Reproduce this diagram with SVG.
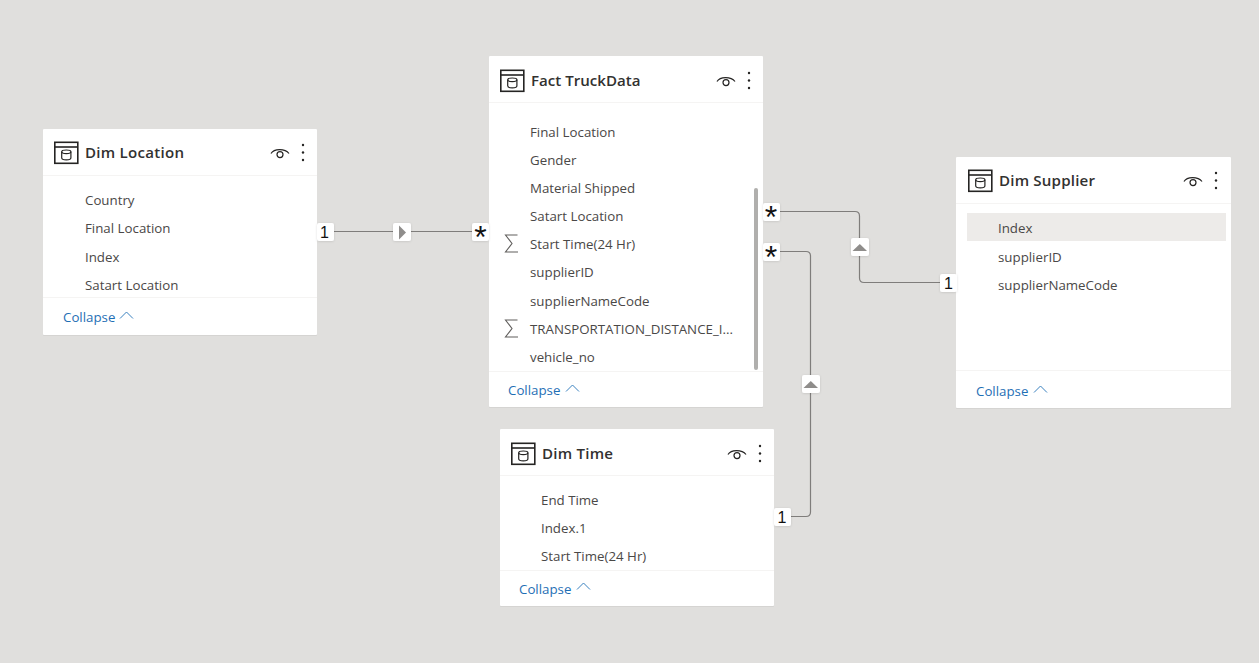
<svg xmlns="http://www.w3.org/2000/svg" xmlns:xlink="http://www.w3.org/1999/xlink" width="1259" height="663" viewBox="0 0 1259 663">
<style>
text{font-family:"Open Sans","Noto Sans","Liberation Sans",sans-serif}
.card{fill:#fff;filter:url(#sh)}
.sep{stroke:#f5f4f3;stroke-width:1;fill:none}
.title{font-size:15.1px;font-weight:600;fill:#323130}
.field{font-size:13.3px;fill:#4a4847}
.collapse{font-size:13.3px;fill:#1f6fb5}
.chev{fill:none;stroke:#3b82c0;stroke-width:1}
.ic{fill:none;stroke:#252423;stroke-width:1.6}
.ic2{fill:none;stroke:#252423;stroke-width:1.2}
.dot{fill:#252423}
.sig{fill:none;stroke:#605e5c;stroke-width:1.1}
.conn{fill:none;stroke:#7f7d7b;stroke-width:1.2}
.badge{fill:#fff;filter:url(#sh2)}
.lbl{font-size:16px;fill:#111;font-family:"Liberation Sans",sans-serif;text-anchor:middle}
.star{font-size:32px;fill:#111;font-family:"Liberation Sans",sans-serif;text-anchor:middle}
.tri{fill:#8f8d8b}
</style>
<defs>
<filter id="sh" x="-5%" y="-5%" width="110%" height="110%"><feDropShadow dx="0" dy="0.5" stdDeviation="0.6" flood-color="#000" flood-opacity="0.1"/></filter>
<filter id="sh2" x="-30%" y="-30%" width="160%" height="160%"><feDropShadow dx="0" dy="0.5" stdDeviation="0.9" flood-color="#000" flood-opacity="0.13"/></filter>
<g id="tableIcon">
<rect class="ic" x="0.8" y="0.8" width="23" height="21"/>
<path class="ic" d="M0.8 5.5H23.8"/>
<ellipse class="ic2" cx="12.3" cy="10.3" rx="4.6" ry="1.8"/>
<path class="ic2" d="M7.7 10.3V16.3C7.7 17.6 9.7 18.4 12.3 18.4S16.9 17.6 16.9 16.3V10.3"/>
</g>
<g id="headActions">
<path class="ic2" d="M0 5.5C3 0.2 14 0.2 18 5.5"/>
<circle class="ic2" cx="9" cy="6.6" r="3"/>
<circle class="dot" cx="32" cy="-3" r="1.2"/>
<circle class="dot" cx="32" cy="4.5" r="1.2"/>
<circle class="dot" cx="32" cy="12" r="1.2"/>
</g>
<path id="chevron" class="chev" d="M0 6.5L6.5 0L13 6.5"/>
<path id="sigma" class="sig" d="M12.500 0H0.500L7 8.500L0.500 17H13"/>
</defs>
<rect width="1259" height="663" fill="#e0dfdd"/>

<g id="connectors">
<path class="conn" d="M333 231.500H472"/>
<path class="conn" d="M779 211.500H855Q859.500 211.500 859.500 216V278Q859.500 282.500 864 282.500H940"/>
<path class="conn" d="M779 251.500H806Q810.500 251.500 810.500 256V512Q810.500 516.500 806 516.500H791"/>
<g id="conn-badges">
<rect class="badge" x="393" y="223" width="18" height="18" rx="2"/>
<path class="tri" d="M399 225.500L406 232.500L399 239.500Z"/>
<rect class="badge" x="851" y="238" width="18" height="18" rx="2"/>
<path class="tri" d="M852.500 251H867L859.800 244Z"/>
<rect class="badge" x="802" y="375" width="18" height="18" rx="2"/>
<path class="tri" d="M803.500 388H818L810.800 381Z"/>
</g>
</g>

<g id="node-dim-location">
<rect class="card" x="43" y="129" width="274" height="206" rx="1"/>
<path class="sep" d="M43 175.500H317M43 297.500H317"/>
<use xlink:href="#tableIcon" x="54" y="141.500"/>
<text class="title" x="85" y="158" textLength="99" lengthAdjust="spacing">Dim Location</text>
<use xlink:href="#headActions" x="271" y="148"/>
<text class="field" x="85" y="205">Country</text>
<text class="field" x="85" y="233">Final Location</text>
<text class="field" x="85" y="262">Index</text>
<text class="field" x="85" y="290">Satart Location</text>
<text class="collapse" x="63" y="322">Collapse</text>
<use xlink:href="#chevron" x="120" y="312"/>
<rect class="badge" x="317" y="223" width="17" height="18" rx="2"/>
<text class="lbl" x="324.500" y="238">1</text>
</g>

<g id="node-fact-truckdata">
<rect class="card" x="489" y="56" width="274" height="351" rx="1"/>
<path class="sep" d="M489 102.500H763M489 371.500H763"/>
<use xlink:href="#tableIcon" x="500" y="69.500"/>
<text class="title" x="531" y="86">Fact TruckData</text>
<use xlink:href="#headActions" x="717" y="76"/>
<text class="field" x="530" y="137">Final Location</text>
<text class="field" x="530" y="165">Gender</text>
<text class="field" x="530" y="193">Material Shipped</text>
<text class="field" x="530" y="221">Satart Location</text>
<use xlink:href="#sigma" x="505" y="235"/>
<text class="field" x="530" y="249">Start Time(24 Hr)</text>
<text class="field" x="530" y="277">supplierID</text>
<text class="field" x="530" y="306">supplierNameCode</text>
<use xlink:href="#sigma" x="505" y="320"/>
<text class="field" x="530" y="334">TRANSPORTATION_DISTANCE_I...</text>
<text class="field" x="530" y="362">vehicle_no</text>
<rect x="754" y="188" width="4" height="182" rx="2" fill="#b0afad"/>
<text class="collapse" x="508" y="395">Collapse</text>
<use xlink:href="#chevron" x="566" y="385"/>
<rect class="badge" x="472" y="223" width="17" height="18" rx="2"/>
<text class="star" x="480.500" y="248">*</text>
<rect class="badge" x="763" y="203" width="17" height="18" rx="2"/>
<text class="star" x="771" y="228">*</text>
<rect class="badge" x="763" y="243" width="17" height="18" rx="2"/>
<text class="star" x="771" y="268">*</text>
</g>

<g id="node-dim-supplier">
<rect class="card" x="956" y="157" width="275" height="251" rx="1"/>
<path class="sep" d="M956 203.500H1231M956 370.500H1231"/>
<use xlink:href="#tableIcon" x="968" y="169.500"/>
<text class="title" x="999" y="186" textLength="96" lengthAdjust="spacing">Dim Supplier</text>
<use xlink:href="#headActions" x="1184" y="176"/>
<rect x="967" y="213" width="259" height="28" fill="#edebe9"/>
<text class="field" x="998" y="233">Index</text>
<text class="field" x="998" y="262">supplierID</text>
<text class="field" x="998" y="290">supplierNameCode</text>
<text class="collapse" x="976" y="396">Collapse</text>
<use xlink:href="#chevron" x="1034" y="386"/>
<rect class="badge" x="940" y="274" width="17" height="18" rx="2"/>
<text class="lbl" x="948.500" y="289">1</text>
</g>

<g id="node-dim-time">
<rect class="card" x="500" y="429" width="274" height="177" rx="1"/>
<path class="sep" d="M500 475.500H774M500 570.500H774"/>
<use xlink:href="#tableIcon" x="511" y="442.500"/>
<text class="title" x="542" y="459" textLength="71" lengthAdjust="spacing">Dim Time</text>
<use xlink:href="#headActions" x="728" y="449"/>
<text class="field" x="541" y="505">End Time</text>
<text class="field" x="541" y="533">Index.1</text>
<text class="field" x="541" y="561">Start Time(24 Hr)</text>
<text class="collapse" x="519" y="594">Collapse</text>
<use xlink:href="#chevron" x="577" y="583"/>
<rect class="badge" x="774" y="508" width="17" height="18" rx="2"/>
<text class="lbl" x="782" y="523">1</text>
</g>
</svg>
